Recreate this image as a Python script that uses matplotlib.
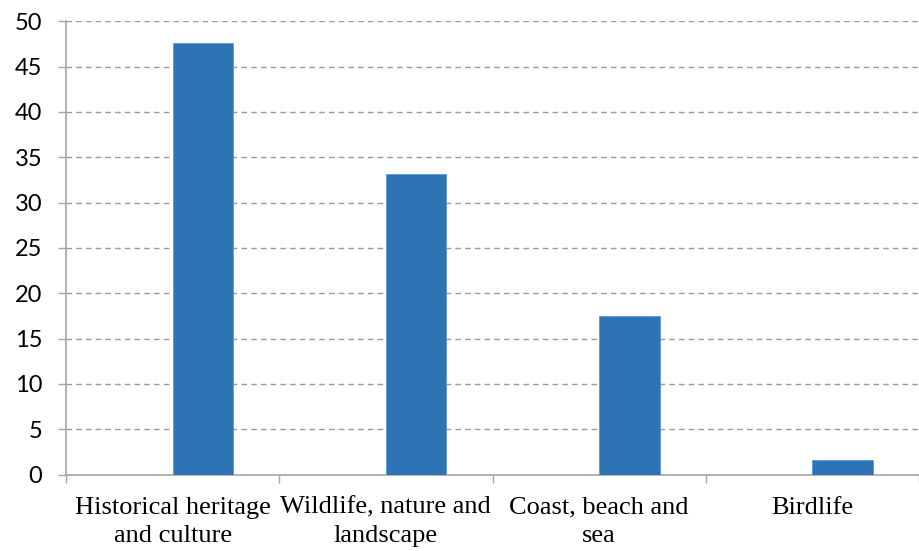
import matplotlib
matplotlib.use("Agg")
import matplotlib.pyplot as plt
import numpy as np

# share of respondents per attraction type
categories = ["Historical heritage\nand culture", "Wildlife, nature and\nlandscape",
              "Coast, beach and\nsea", "Birdlife"]
values = [47.6, 33.2, 17.5, 1.6]
yticks = [0, 5, 10, 15, 20, 25, 30, 35, 40, 45, 50]

bar_color = "#2E74B5"
grid_color = "#9A9A9A"
axis_color = "#A6A6A6"

W, H = 919, 551
fig = plt.figure(figsize=(W / 100, H / 100), dpi=100)
# axes box in pixel units: y-axis at x=66, 0 at y=474.5, 50 at y=21.2
left, right = 66, 919
bottom, top = 474.5, 21.2
ax = fig.add_axes([left / W, 1 - bottom / H, (right - left) / W, (bottom - top) / H])

cat_px = 215.3
x = np.arange(len(categories))
width = 61.0 / cat_px
# bar sits in the second slot of each category (first slot is empty)
ax.bar(x + width / 2, values, width=width, color=bar_color,
       edgecolor="#5B9BD5", linewidth=0.6, zorder=3)

ax.set_xlim(-0.5, -0.5 + (right - left) / cat_px)
ax.set_ylim(0, 50)
ax.set_yticks(yticks)
ax.set_yticklabels([str(v) for v in yticks], family="Lato", fontsize=17)
ax.yaxis.grid(True, linestyle=(0, (4, 3)), color=grid_color, linewidth=1.0, zorder=0)
ax.tick_params(axis="y", length=6, width=1, color=axis_color, pad=11)

# category ticks sit on the boundaries, labels at centres
ax.set_xticks(np.arange(len(categories) + 1) - 0.5)
ax.set_xticklabels([])
ax.tick_params(axis="x", length=6, width=1, color=axis_color)
ax.set_xticks(x, minor=True)
ax.set_xticklabels(categories, minor=True, family="Liberation Serif", fontsize=19,
                   linespacing=1.38)
ax.tick_params(axis="x", which="minor", length=0, pad=16)

for s in ["top", "right"]:
    ax.spines[s].set_visible(False)
for s in ["left", "bottom"]:
    ax.spines[s].set_color(axis_color)
    ax.spines[s].set_linewidth(1.2)

fig.savefig("out.png", dpi=100)
